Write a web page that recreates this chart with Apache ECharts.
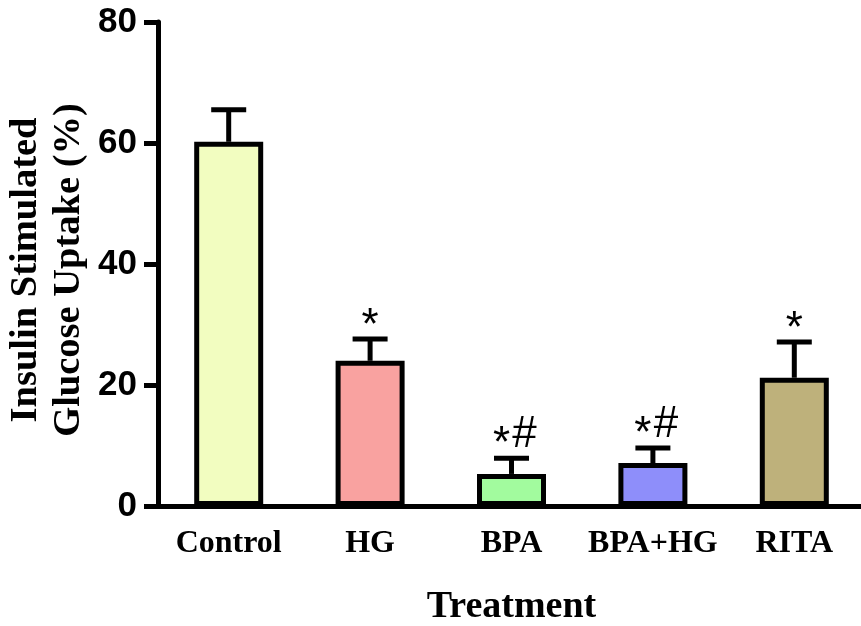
<!DOCTYPE html>
<html>
<head>
<meta charset="utf-8">
<script src="https://cdn.jsdelivr.net/npm/echarts@6/dist/echarts.min.js"></script>
<style>html,body{margin:0;padding:0;background:#fff;}#c{width:861px;height:626px;}</style>
</head>
<body>
<div id="c"></div>
<script>
const categories = ['Control', 'HG', 'BPA', 'BPA+HG', 'RITA'];
const means = [60.2, 24.0, 5.3, 7.1, 21.2];
const errors = [5.3, 3.6, 2.6, 2.5, 5.9];
const annotations = ['', '*', '*#', '*#', '*'];
const barColors = ['#F2FDC0', '#F9A2A0', '#A2FB9E', '#8E8EFA', '#BEB17B'];
const yTicks = [0, 20, 40, 60, 80];
const yTitle = 'Insulin Stimulated\nGlucose Uptake (%)';
const xTitle = 'Treatment';

const serif = "'Liberation Serif', 'Times New Roman', serif";
const sans = "'Liberation Sans', Arial, sans-serif";

const chart = echarts.init(document.getElementById('c'), null, {renderer: 'canvas'});
chart.setOption({
  animation: false,
  grid: {left: 158, top: 22, bottom: 120, width: 707, containLabel: false, outerBoundsMode: 'none'},
  graphic: [{
    type: 'text',
    x: 48,
    y: 270,
    rotation: Math.PI / 2,
    style: {
      text: yTitle,
      fill: '#000',
      font: "bold 38.5px 'Liberation Serif', 'Times New Roman', serif",
      lineHeight: 43,
      textAlign: 'center',
      textVerticalAlign: 'middle'
    }
  }],
  xAxis: {
    type: 'category',
    data: categories,
    axisLine: {lineStyle: {color: '#000', width: 5}},
    axisTick: {alignWithLabel: true, length: 13, lineStyle: {color: '#000', width: 5}},
    axisLabel: {interval: 0, color: '#000', fontFamily: serif, fontWeight: 'bold', fontSize: 32, margin: 22},
    name: xTitle,
    nameLocation: 'middle',
    nameGap: 82,
    nameTextStyle: {color: '#000', fontFamily: serif, fontWeight: 'bold', fontSize: 38}
  },
  yAxis: {
    type: 'value',
    min: yTicks[0],
    max: yTicks[yTicks.length - 1],
    interval: 20,
    splitLine: {show: false},
    axisLine: {show: true, lineStyle: {color: '#000', width: 5}},
    axisTick: {show: true, length: 14, lineStyle: {color: '#000', width: 5}},
    axisLabel: {color: '#000', fontFamily: sans, fontWeight: 'bold', fontSize: 35, margin: 21}
  },
  series: [
    {
      type: 'bar',
      data: means.map((v, i) => ({value: v, itemStyle: {color: barColors[i]}})),
      barWidth: 69,
      itemStyle: {borderColor: '#000', borderWidth: 5},
      z: 2
    },
    {
      type: 'custom',
      z: 3,
      data: means.map((v, i) => [i, v, errors[i]]),
      renderItem: function (params, api) {
        const i = api.value(0);
        const v = api.value(1);
        const e = api.value(2);
        const base = api.coord([i, v]);
        const top = api.coord([i, v + e]);
        const half = 17.5;
        const style = {stroke: '#000', lineWidth: 5};
        const children = [
          {type: 'line', shape: {x1: base[0], y1: base[1], x2: top[0], y2: top[1]}, style: style},
          {type: 'line', shape: {x1: top[0] - half, y1: top[1], x2: top[0] + half, y2: top[1]}, style: style}
        ];
        const ann = annotations[i];
        const ts = {fill: '#000', font: "44px 'Liberation Sans', Arial, sans-serif", textAlign: 'center', textVerticalAlign: 'middle'};
        if (ann === '*') {
          children.push({type: 'text', x: top[0], y: top[1] - 12, style: Object.assign({text: '*'}, ts)});
        } else if (ann === '*#') {
          children.push({type: 'text', x: top[0] - 10, y: top[1] - 13, style: Object.assign({text: '*'}, ts)});
          children.push({type: 'text', x: top[0] + 13, y: top[1] - 23, style: Object.assign({text: '#'}, ts)});
        }
        return {type: 'group', children: children};
      }
    }
  ]
});
</script>
</body>
</html>
